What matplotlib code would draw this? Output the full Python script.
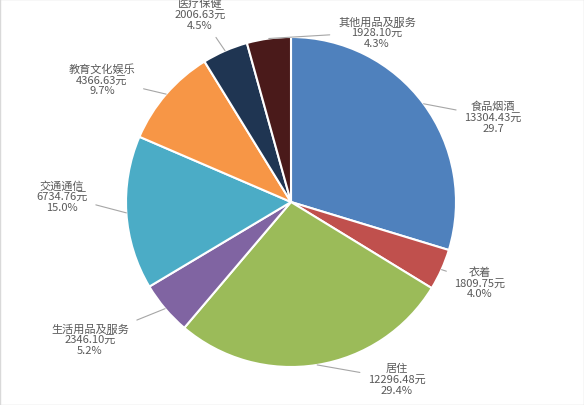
import matplotlib.pyplot as plt
import numpy as np

plt.rcParams['font.family'] = ['Noto Sans CJK SC', 'DejaVu Sans']

names = ['食品烟酒', '衣着', '居住', '生活用品及服务', '交通通信', '教育文化娱乐', '医疗保健', '其他用品及服务']
values = [13304.43, 1809.75, 12296.48, 2346.10, 6734.76, 4366.63, 2006.63, 1928.10]
pcts = ['29.7', '4.0%', '29.4%', '5.2%', '15.0%', '9.7%', '4.5%', '4.3%']
colors = ['#4F81BD', '#C0504D', '#9BBB59', '#8064A2', '#4BACC6', '#F79646', '#1F3552', '#4A1A1A']
# label anchor positions in pixels (x, y from top)
label_px = [(493, 118), (480, 283), (397, 380), (90, 340), (62, 197), (102, 80), (200, 15), (377, 33)]

W, H = 584, 406
fig = plt.figure(figsize=(W / 100, H / 100), dpi=100)
ax = fig.add_axes([126 / W, 1 - 368 / H, 330 / W, 330 / H])
wedges, _ = ax.pie(values, colors=colors, startangle=90, counterclock=False,
                   wedgeprops=dict(edgecolor='white', linewidth=1.5))
ax.set_xlim(-1, 1)
ax.set_ylim(-1, 1)
ax.set_aspect('equal')

for w, n, v, p, (px, py) in zip(wedges, names, values, pcts, label_px):
    ang = np.deg2rad((w.theta1 + w.theta2) / 2)
    xy = (np.cos(ang), np.sin(ang))
    xt = (px / W, 1 - py / H)
    ax.annotate(f'{n}\n{v:.2f}元\n{p}', xy=xy, xytext=xt, textcoords='figure fraction',
                ha='center', va='center', fontsize=8, color='#595959', linespacing=1.1,
                arrowprops=dict(arrowstyle='-', color='#A6A6A6', lw=0.8, shrinkA=4, shrinkB=0),
                annotation_clip=False)

fig.patches.append(plt.Rectangle((0, 0), 1, 1, transform=fig.transFigure, fill=False,
                                 edgecolor='#D9D9D9', lw=1))
fig.savefig('out.png', dpi=100)
